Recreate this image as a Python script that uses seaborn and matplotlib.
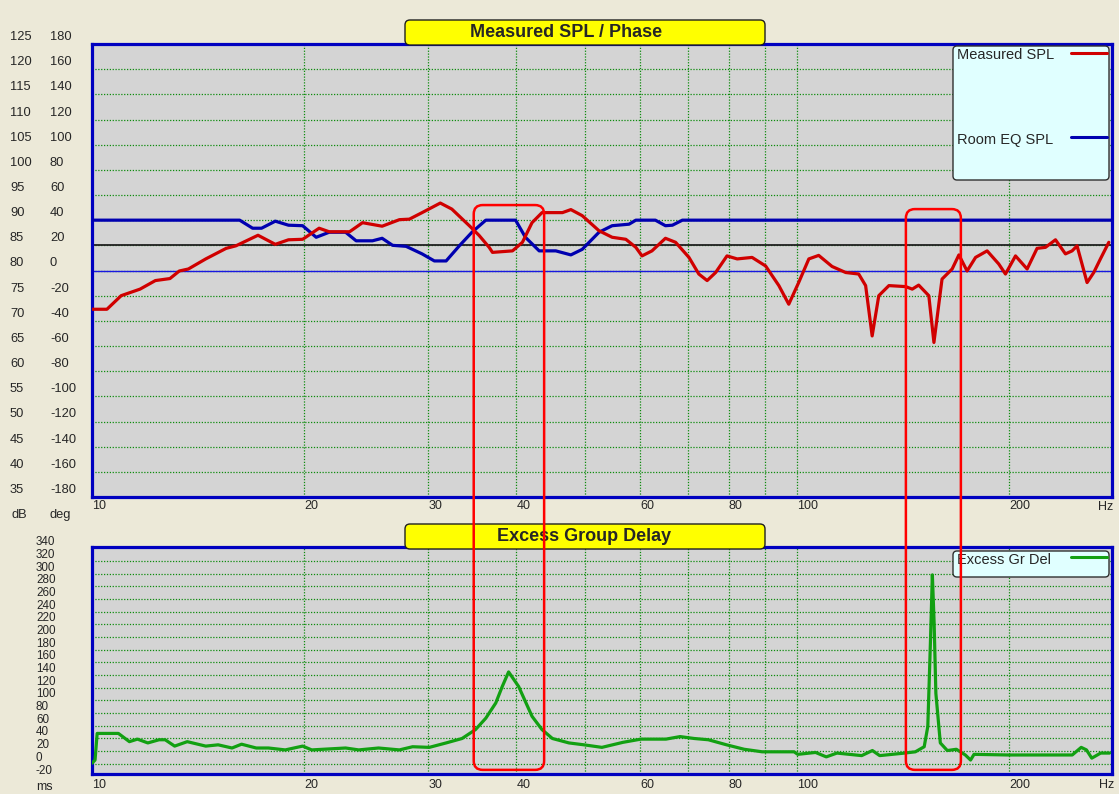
import numpy as np
import matplotlib
matplotlib.use('Agg')
import matplotlib.pyplot as plt
import seaborn as sns
from matplotlib.patches import FancyBboxPatch
from matplotlib.lines import Line2D
from matplotlib.ticker import NullLocator
from matplotlib.transforms import IdentityTransform, offset_copy

sns.set_style('white')
plt.rcParams['font.family'] = ['Liberation Sans', 'DejaVu Sans']

# Measured SPL (dB) against frequency (Hz)
spl_freq = [10.0, 10.5, 11.0, 11.7, 12.3, 12.9, 13.3, 13.7, 14.5, 15.5,
            16.0, 17.2, 18.2, 19.0, 19.9, 21.0, 21.7, 23.2, 24.2, 25.8,
            27.3, 28.2, 29.4, 31.2, 32.4, 34.3, 35.4, 36.6, 37.0, 39.5,
            40.8, 42.1, 43.5, 46.5, 47.8, 49.6, 52.4, 54.7, 57.2, 59.1,
            60.3, 62.3, 65.1, 67.3, 70.3, 72.6, 74.6, 76.7, 79.6, 82.3,
            86.4, 90.3, 94.3, 97.4, 100.6, 104.0, 107.4, 112.2, 117.3, 122.4,
            125.2, 127.9, 130.7, 135.1, 142.7, 145.8, 148.9, 153.9, 156.5, 160.7,
            166.1, 169.8, 174.4, 179.3, 186.2, 193.4, 197.7, 204.3, 212.2, 219.2,
            225.3, 232.8, 240.5, 245.8, 249.8, 258.1, 263.8, 269.6, 277.1]
spl_db = [72.3, 72.3, 75.0, 76.3, 78.0, 78.4, 79.9, 80.3, 82.3, 84.4,
          84.9, 87.0, 85.2, 86.1, 86.2, 88.4, 87.7, 87.7, 89.5, 88.8,
          90.1, 90.2, 91.5, 93.4, 92.2, 88.9, 87.0, 84.6, 83.6, 83.9,
          85.6, 89.5, 91.5, 91.5, 92.1, 90.9, 87.9, 86.6, 86.2, 84.6,
          82.9, 83.9, 86.4, 85.6, 82.6, 79.3, 78.0, 79.6, 82.9, 82.3,
          82.6, 80.9, 77.0, 73.3, 77.6, 82.3, 83.0, 80.8, 79.6, 79.3,
          77.0, 67.0, 75.0, 77.0, 76.8, 76.3, 77.1, 75.0, 65.7, 78.3,
          80.3, 83.1, 79.9, 82.6, 83.9, 81.3, 79.3, 82.9, 80.3, 84.4,
          84.6, 86.1, 83.3, 83.9, 84.9, 77.6, 79.6, 82.3, 85.6]

# Room EQ SPL (dB)
eq_freq = [10.0, 16.2, 16.9, 17.4, 18.2, 19.0, 19.9, 20.8, 21.7, 22.9,
           23.7, 25.0, 25.8, 26.7, 27.9, 29.4, 30.6, 31.8, 33.2, 34.6,
           36.2, 39.9, 41.2, 43.1, 45.5, 47.8, 49.6, 52.4, 54.7, 57.8,
           59.1, 63.0, 65.1, 66.6, 68.8, 280.0]
eq_db = [90.0, 90.0, 88.4, 88.4, 89.8, 89.0, 88.9, 86.6, 87.6, 87.6,
         85.9, 85.9, 86.4, 85.0, 84.8, 83.3, 81.9, 81.9, 84.9, 87.6,
         90.0, 90.0, 86.6, 83.9, 83.9, 83.1, 84.2, 87.6, 88.9, 89.2,
         90.0, 90.0, 88.9, 89.0, 90.0, 90.0]

# Excess group delay (ms)
gd_freq = [10.0, 10.1, 10.17, 10.9, 11.3, 11.6, 12.0, 12.45, 12.7, 13.1,
           13.65, 14.5, 15.1, 15.8, 16.3, 17.1, 17.8, 18.8, 19.9, 20.5,
           22.9, 23.9, 25.5, 27.3, 28.5, 30.1, 31.8, 33.5, 35.0, 36.2,
           37.4, 38.2, 39.0, 40.3, 42.1, 43.5, 45.0, 47.5, 49.9, 52.9,
           56.7, 60.1, 65.2, 68.3, 71.5, 74.9, 79.5, 84.2, 89.3, 99.1,
           100.3, 106.3, 110.1, 114.0, 123.6, 128.0, 131.1, 142.2, 147.3, 151.6,
           153.4, 154.7, 155.7, 156.6, 157.5, 159.8, 163.5, 168.4, 173.4, 176.4,
           178.4, 199.3, 245.9, 253.2, 257.6, 262.1, 269.8, 277.8]
gd_ms = [1, 6, 48, 48, 35, 39, 33, 38, 38, 28,
         35, 28, 30, 25, 31, 25, 25, 22, 28, 22,
         25, 22, 25, 22, 27, 26, 33, 40, 54, 72,
         96, 122, 145, 122, 75, 54, 40, 33, 30, 26,
         34, 39, 39, 43, 40, 38, 30, 23, 19, 19,
         15, 18, 11, 17, 13, 21, 13, 17, 19, 27,
         59, 190, 298, 222, 111, 33, 21, 23, 14, 6,
         15, 14, 14, 26, 22, 9, 17, 17]

target_db = 85
zero_deg_db = 80

db_ticks = list(range(125, 30, -5))
deg_ticks = list(range(180, -181, -20))
ms_ticks = list(range(340, -21, -20))
x_grid = [10, 20, 30, 40, 50, 60, 70, 80, 90, 100, 200]
x_labels = ['10', '20', '30', '40', '', '60', '', '80', '', '100', '200']

# marked regions: (low Hz, high Hz, top dB)
marked_bands = [(34.8, 43.8, 93.0), (142.8, 170.9, 92.2)]
band_bottom_ms = -9.5

W, H = 1119, 794
fig = plt.figure(figsize=(W / 100, H / 100), dpi=100, facecolor='#ECE9D8')
ax1 = fig.add_axes([92 / W, 1 - 497 / H, 1020 / W, 453 / H])
ax2 = fig.add_axes([92 / W, 1 - 774 / H, 1020 / W, 227 / H])

grid_green = '#0E8C0E'
frame_blue = '#0000C0'


def style_axes(ax, pad):
    ax.set_facecolor('#D4D4D4')
    ax.set_xscale('log')
    ax.set_xlim(10, 280)
    ax.set_xticks(x_grid)
    ax.set_xticklabels(x_labels)
    ax.xaxis.set_minor_locator(NullLocator())
    ax.yaxis.set_minor_locator(NullLocator())
    ax.tick_params(axis='x', length=0, labelsize=9, pad=pad)
    ax.tick_params(axis='y', length=0, labelleft=False)
    for lbl in ax.get_xticklabels():
        lbl.set_ha('left')
    ax.grid(True, color=grid_green, linestyle=(0, (1, 1.3)), linewidth=0.9)
    ax.set_axisbelow(True)
    for s in ax.spines.values():
        s.set_visible(True)
        s.set_color(frame_blue)
        s.set_linewidth(2.3)
    ax.set_xlabel('')
    ax.set_ylabel('')


# top panel: SPL / phase
ax1.axhline(target_db, color='#202020', lw=1.3, zorder=2)
ax1.axhline(zero_deg_db, color='#1818E0', lw=1.0, zorder=2)
sns.lineplot(x=eq_freq, y=eq_db, ax=ax1, color='#0000B0', linewidth=2.3, zorder=3)
sns.lineplot(x=spl_freq, y=spl_db, ax=ax1, color='#D00000', linewidth=2.3, zorder=4)
style_axes(ax1, 2.5)
ax1.set_ylim(35, 125)
ax1.set_yticks(db_ticks)

lab1 = offset_copy(ax1.get_yaxis_transform(), fig=fig, x=0, y=7, units='dots')
for db, deg in zip(db_ticks, deg_ticks):
    ax1.text(-82 / 1020, db, str(db), transform=lab1, ha='left', va='center',
             fontsize=9.3, clip_on=False)
    ax1.text(-42 / 1020, db, str(deg), transform=lab1, ha='left', va='center',
             fontsize=9.3, clip_on=False)
fig.text(11 / W, 1 - 515 / H, 'dB', ha='left', va='center', fontsize=9.3)
fig.text(50 / W, 1 - 515 / H, 'deg', ha='left', va='center', fontsize=9.3)
fig.text(1098 / W, 1 - 507 / H, 'Hz', ha='left', va='center', fontsize=9)

# bottom panel: excess group delay
sns.lineplot(x=gd_freq, y=gd_ms, ax=ax2, color='#12A012', linewidth=2.3, zorder=3)
style_axes(ax2, 3.5)
ax2.set_ylim(-16, 342)
ax2.set_yticks(ms_ticks[1:-1])

lab2 = offset_copy(ax2.get_yaxis_transform(), fig=fig, x=0, y=6, units='dots')
for ms in ms_ticks:
    ax2.text(-56 / 1020, ms, str(ms), transform=lab2, ha='left', va='center',
             fontsize=8.4, clip_on=False)
fig.text(36 / W, 1 - 787 / H, 'ms', ha='left', va='center', fontsize=9)
fig.text(1099 / W, 1 - 785 / H, 'Hz', ha='left', va='center', fontsize=9)

ident = IdentityTransform()

# yellow title banners
for (x0, y0, x1, y1), tx, title in [((405, 20, 765, 45), 566, 'Measured SPL / Phase'),
                                    ((405, 524, 765, 549), 584, 'Excess Group Delay')]:
    fig.add_artist(FancyBboxPatch((x0, H - y1), x1 - x0, y1 - y0,
                                  boxstyle='round,pad=0,rounding_size=5',
                                  transform=ident, fc='#FFFF00', ec='#202020', lw=1.0, zorder=5))
    fig.text(tx / W, 1 - (y0 + y1) / 2 / H, title, ha='center', va='center',
             fontsize=13, fontweight='bold', zorder=6)

# legends
legend_boxes = [(953, 46, 1109, 180), (953, 551, 1109, 577)]
for x0, y0, x1, y1 in legend_boxes:
    fig.add_artist(FancyBboxPatch((x0, H - y1), x1 - x0, y1 - y0,
                                  boxstyle='round,pad=0,rounding_size=4',
                                  transform=ident, fc='#E0FFFF', ec='#303030', lw=1.0, zorder=5))
legend_items = [('Measured SPL', 55, 53, '#D00000'),
                ('Room EQ SPL', 140, 137, '#0000B0'),
                ('Excess Gr Del', 560, 557, '#12A012')]
for name, ty, ly, col in legend_items:
    fig.text(957 / W, 1 - ty / H, name, ha='left', va='center', fontsize=10.5, zorder=6)
    fig.add_artist(Line2D([1071, 1107], [H - ly, H - ly], color=col, lw=2.2,
                          transform=ident, zorder=6))

# red marker boxes spanning both panels
for f0, f1, top in marked_bands:
    x0, y_top = ax1.transData.transform((f0, top))
    x1, _ = ax1.transData.transform((f1, top))
    _, y_bot = ax2.transData.transform((f0, band_bottom_ms))
    fig.add_artist(FancyBboxPatch((x0, y_bot), x1 - x0, y_top - y_bot,
                                  boxstyle='round,pad=0,rounding_size=9',
                                  transform=ident, fill=False, ec='#FF0000', lw=1.8, zorder=10))

fig.savefig('out.png', dpi=100, facecolor=fig.get_facecolor())
